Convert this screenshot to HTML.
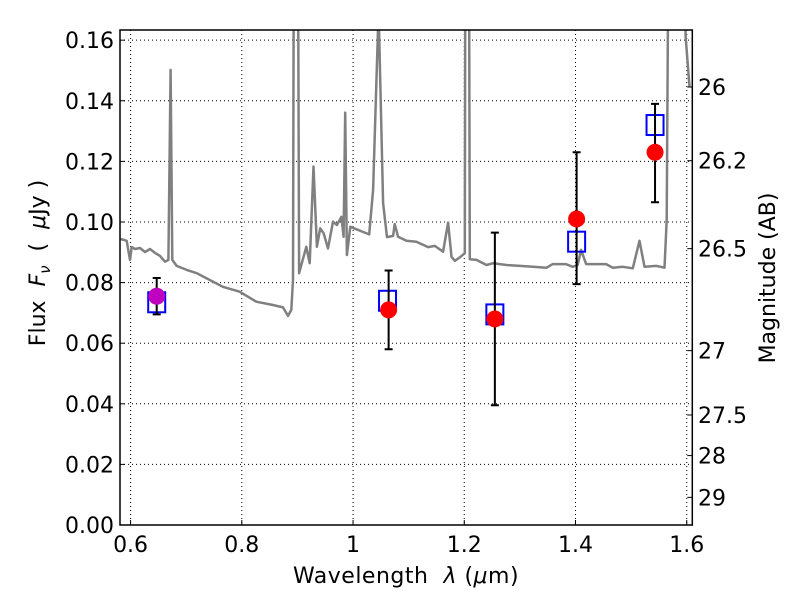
<!DOCTYPE html>
<html><head><meta charset="utf-8"><style>
body{margin:0;background:#fff;}
svg text{font-family:"DejaVu Sans","Liberation Sans",sans-serif;fill:#000;}
</style></head><body>
<svg id="chart" width="800" height="600" xmlns="http://www.w3.org/2000/svg">
<defs><clipPath id="clip"><rect x="120" y="30" width="572.3" height="495"/></clipPath></defs>
<rect x="0" y="0" width="800" height="600" fill="#fff"/>
<g id="grid"></g>
<g id="spec" clip-path="url(#clip)"></g>
<g id="pts"></g>
<rect x="120" y="30" width="572.3" height="495" fill="none" stroke="#000" stroke-width="1.5"/>
<g id="axes"></g>
<text x="406" y="583" font-size="22" letter-spacing="0.5" text-anchor="middle">Wavelength&#160;&#160;<tspan font-style="italic">λ</tspan>&#160;(<tspan font-style="italic">μ</tspan>m)</text>
<text transform="translate(45,263) rotate(-90)" font-size="22" text-anchor="middle">Flux&#160;&#160;<tspan font-style="italic">F<tspan font-size="15" dy="5">ν</tspan></tspan><tspan dy="-5">&#160;&#160;(&#160;&#160;</tspan><tspan font-style="italic">μ</tspan>Jy&#160;)</text>
<text transform="translate(775,278) rotate(-90)" font-size="22" text-anchor="middle">Magnitude (AB)</text>
</svg>
<script>
const xTicks=[0.6,0.8,1.0,1.2,1.4,1.6];
const xTickLabels=["0.6","0.8","1","1.2","1.4","1.6"];
const yTicks=[0,0.02,0.04,0.06,0.08,0.10,0.12,0.14,0.16];
const yTickLabels=["0.00","0.02","0.04","0.06","0.08","0.10","0.12","0.14","0.16"];
const magTicks=[26,26.2,26.5,27,27.5,28,29];
const magTickLabels=["26","26.2","26.5","27","27.5","28","29"];
const specWave=[0.582,0.593,0.599,0.602,0.608,0.617,0.626,0.635,0.644,0.653,0.662,0.668,0.672,0.675,0.683,0.701,0.719,0.742,0.766,0.796,0.826,0.856,0.874,0.883,0.889,0.892,0.895,0.899,0.903,0.916,0.922,0.929,0.935,0.941,0.947,0.955,0.964,0.971,0.979,0.983,0.986,0.989,0.995,1.029,1.036,1.046,1.054,1.061,1.072,1.075,1.081,1.096,1.114,1.135,1.147,1.162,1.171,1.177,1.183,1.192,1.201,1.203,1.207,1.210,1.222,1.240,1.252,1.276,1.300,1.323,1.348,1.359,1.383,1.395,1.404,1.410,1.419,1.437,1.455,1.467,1.485,1.503,1.515,1.524,1.545,1.560,1.564,1.569,1.596,1.598,1.605];
const specFlux=[0.0944,0.0938,0.0875,0.0917,0.0911,0.0914,0.0901,0.0911,0.0898,0.0888,0.0869,0.0875,0.1502,0.0875,0.0855,0.0842,0.0831,0.0809,0.0786,0.0770,0.0737,0.0726,0.0718,0.0690,0.0710,0.0809,0.30,0.30,0.0831,0.0918,0.0864,0.1183,0.0918,0.0979,0.0963,0.0913,0.1001,0.0990,0.1017,0.0951,0.1361,0.0891,0.0984,0.0959,0.1106,0.17,0.1062,0.0950,0.0954,0.0993,0.0951,0.0938,0.0935,0.0917,0.0921,0.0902,0.0998,0.0885,0.0872,0.0883,0.0897,0.30,0.30,0.0877,0.0875,0.0858,0.0864,0.0858,0.0855,0.0852,0.0849,0.0861,0.0861,0.0852,0.0858,0.0908,0.0861,0.0861,0.0861,0.0849,0.0852,0.0847,0.0938,0.0852,0.0855,0.0849,0.1007,0.25,0.25,0.1612,0.1447];
const obsWave=[0.647,1.064,1.255,1.402,1.543];
const obsFlux=[0.0755,0.071,0.068,0.101,0.123];
const errLow=[0.0695,0.058,0.0395,0.0795,0.1065];
const errHigh=[0.0815,0.084,0.0965,0.123,0.139];
const modelWave=[0.647,1.062,1.255,1.402,1.543];
const modelFlux=[0.0735,0.074,0.0695,0.0935,0.132];

const X0=0.581,X1=1.610,PX0=120,PX1=692.3,PY0=525,PY1=30,YMAX=0.16336;
const sx=v=>PX0+(v-X0)/(X1-X0)*(PX1-PX0);
const sy=v=>PY0-v/YMAX*(PY0-PY1);
const NS="http://www.w3.org/2000/svg";
function mk(tag,attrs,parent){const e=document.createElementNS(NS,tag);for(const k in attrs)e.setAttribute(k,attrs[k]);parent.appendChild(e);return e;}
const grid=document.getElementById('grid'),axes=document.getElementById('axes'),spec=document.getElementById('spec'),pts=document.getElementById('pts');

xTicks.forEach((t,i)=>{const x=sx(t);
 const g=mk('line',{x1:x,x2:x,y1:PY1,y2:PY0,stroke:'#000','stroke-width':1,'stroke-dasharray':'1,3'},grid);
 
 const tk=mk('line',{x1:x,x2:x,y1:PY0,y2:PY0-5,stroke:'#000'},axes);
 
 const tx=mk('text',{x:x,y:552,'font-size':22,'text-anchor':'middle'},axes);tx.textContent=xTickLabels[i];
 });
yTicks.forEach((t,i)=>{const y=sy(t);
 if(t>0){const g=mk('line',{x1:PX0,x2:PX1,y1:y,y2:y,stroke:'#000','stroke-width':1,'stroke-dasharray':'1,3'},grid);
 }
 const tk=mk('line',{x1:PX0,x2:PX0+5,y1:y,y2:y,stroke:'#000'},axes);
 
 const tx=mk('text',{x:114,y:y+8,'font-size':22,'text-anchor':'end'},axes);tx.textContent=yTickLabels[i];
 });
magTicks.forEach((m,i)=>{const f=Math.pow(10,(23.9-m)/2.5);const y=sy(f);
 const tk=mk('line',{x1:PX1,x2:PX1-5,y1:y,y2:y,stroke:'#000'},axes);
 
 const tx=mk('text',{x:698,y:y+8,'font-size':22},axes);tx.textContent=magTickLabels[i];
 });

const d=specWave.map((w,i)=>(i?'L':'M')+sx(w).toFixed(1)+','+sy(specFlux[i]).toFixed(1)).join(' ');
const sp=mk('path',{d:d,fill:'none',stroke:'#808080','stroke-width':2.5,'stroke-linejoin':'round'},spec);


modelWave.forEach((w,i)=>{const x=sx(w),y=sy(modelFlux[i]);
 const r=mk('rect',{x:x-8.5,y:y-10,width:17,height:20,fill:'none',stroke:'#0000ff','stroke-width':2},pts);
 });
obsWave.forEach((w,i)=>{const x=sx(w);
 const eb=mk('path',{d:`M${x},${sy(errLow[i])}L${x},${sy(errHigh[i])}M${x-4},${sy(errLow[i])}L${x+4},${sy(errLow[i])}M${x-4},${sy(errHigh[i])}L${x+4},${sy(errHigh[i])}`,stroke:'#000','stroke-width':2,fill:'none'},pts);
 
 const c=mk('circle',{cx:x,cy:sy(obsFlux[i]),r:8.5,fill:i===0?'#bf00bf':'#ff0000'},pts);
 });
</script>
</body></html>
